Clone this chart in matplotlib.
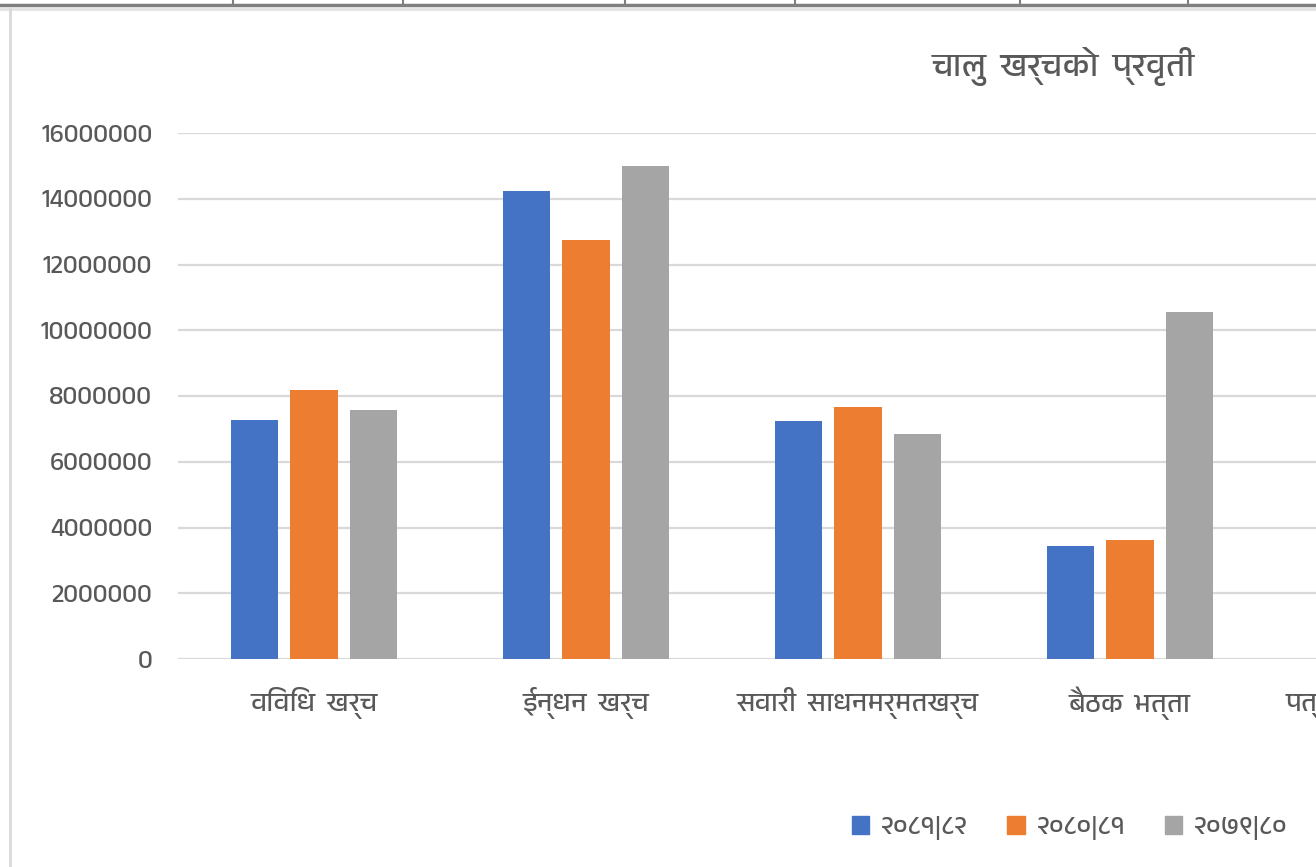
import matplotlib
matplotlib.use("Agg")
import matplotlib.pyplot as plt
from matplotlib import font_manager
from matplotlib.lines import Line2D
import numpy as np

# data (NPR)
categories = ["विविध  खर्च", "ईन्धन  खर्च", "सवारी  साधनमर्मतखर्च", "बैठक  भत्ता", "पत्रपत्रिका तथा छपाई"]
fy_8182 = [7270000, 14240000, 7240000, 3440000, 900000]
fy_8081 = [8180000, 12750000, 7670000, 3620000, 950000]
fy_7980 = [7570000, 15000000, 6840000, 10560000, 1000000]
series_names = ["२०८१|८२", "२०८०|८१", "२०७९|८०"]
colors = ["#4472C4", "#ED7D31", "#A5A5A5"]
yticks = [0, 2000000, 4000000, 6000000, 8000000, 10000000, 12000000, 14000000, 16000000]

# pick a devanagari capable font if one exists
names = sorted({f.name for f in font_manager.fontManager.ttflist})
deva = [n for n in names if any(k in n for k in ("Devanagari", "Lohit", "Mukta", "Hind", "Kalimati", "Mangal"))]
plt.rcParams["font.family"] = deva + ["DejaVu Sans"]

W, H = 1316, 867
fig = plt.figure(figsize=(W / 100, H / 100), dpi=100)

# axes extends past the right edge, like the cropped screenshot
left, right, top, bottom = 178, 178 + 5 * 272, 133, 659
ax = fig.add_axes([left / W, 1 - bottom / H, (right - left) / W, (bottom - top) / H])

x = np.arange(len(categories))
width = 0.173
step = 0.22
for i, vals in enumerate([fy_8182, fy_8081, fy_7980]):
    ax.bar(x + (i - 1) * step, vals, width, color=colors[i], label=series_names[i], zorder=3)

ax.set_xlim(-0.5, len(categories) - 0.5)
ax.set_ylim(0, 16000000)
ax.set_yticks(yticks)
ax.set_yticklabels([str(v) for v in yticks])
ax.set_xticks(x)
ax.set_xticklabels(categories)
ax.grid(axis="y", color="#D9D9D9", linewidth=1.6, zorder=0)
for s in ax.spines.values():
    s.set_visible(False)
ax.tick_params(axis="both", length=0, colors="#595959")
ax.tick_params(axis="y", pad=18.5, labelsize=18.5)
ax.tick_params(axis="x", pad=20, labelsize=19.5)

fig.text(1063 / W, 1 - 66 / H, "चालु  खर्चको  प्रवृती", ha="center", va="center",
         fontsize=24, color="#595959")

handles = [plt.Rectangle((0, 0), 1, 1, color=c) for c in colors]
fig.legend(handles, series_names, loc="center left", bbox_to_anchor=(828 / W, 1 - 828 / H),
           ncol=3, frameon=False, fontsize=19, handlelength=0.65, handleheight=0.65,
           handletextpad=0.45, columnspacing=1.5, labelcolor="#595959")

# screenshot frame: table border on top, chart border on the left
fig.add_artist(Line2D([0, 1], [1 - 5 / H, 1 - 5 / H], color="#7F7F7F", linewidth=2.5))
fig.add_artist(Line2D([0, 1], [1 - 9 / H, 1 - 9 / H], color="#E3E3E3", linewidth=2))
for px in [233, 403, 625, 795, 1020, 1188]:
    fig.add_artist(Line2D([px / W, px / W], [1, 1 - 5 / H], color="#7F7F7F", linewidth=1.5))
fig.add_artist(Line2D([10 / W, 10 / W], [0, 1 - 9 / H], color="#D9D9D9", linewidth=2))

fig.savefig("out.png", dpi=100)
